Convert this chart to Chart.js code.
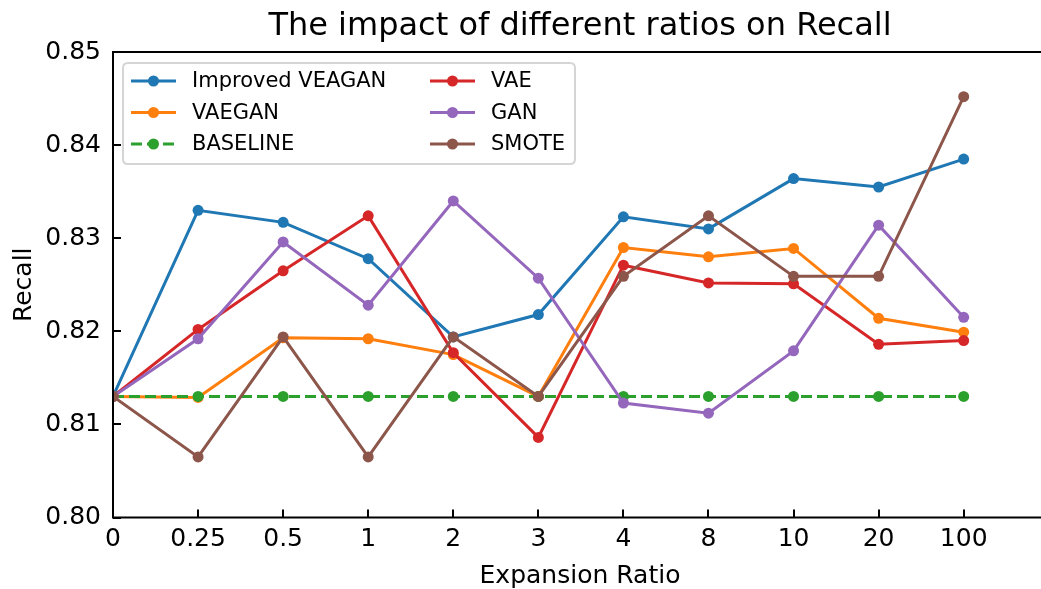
<!DOCTYPE html>
<html>
<head>
<meta charset="utf-8">
<script src="https://cdn.jsdelivr.net/npm/chart.js@4/dist/chart.umd.min.js"></script>
<style>
  html, body { margin: 0; padding: 0; background: #ffffff; overflow: hidden; }
  #wrap { width: 1050px; height: 589px; position: relative; }
</style>
</head>
<body>
<div id="wrap"><canvas id="chart"></canvas></div>
<script>
// Expansion ratios on the x axis (evenly spaced categories)
const ratioLabels = ['0', '0.25', '0.5', '1', '2', '3', '4', '8', '10', '20', '100'];

// Recall per method
const improvedVeagan = [0.8130, 0.8330, 0.8317, 0.8278, 0.8194, 0.8218, 0.8323, 0.8310, 0.8364, 0.8355, 0.8385];
const vaegan         = [0.8130, 0.8129, 0.8193, 0.8192, 0.8175, 0.8130, 0.8290, 0.8280, 0.8289, 0.8214, 0.8199];
const baseline       = [0.8130, 0.8130, 0.8130, 0.8130, 0.8130, 0.8130, 0.8130, 0.8130, 0.8130, 0.8130, 0.8130];
const vae            = [0.8130, 0.8202, 0.8265, 0.8324, 0.8177, 0.8086, 0.8271, 0.8252, 0.8251, 0.8186, 0.8190];
const gan            = [0.8130, 0.8192, 0.8296, 0.8228, 0.8340, 0.8257, 0.8123, 0.8112, 0.8179, 0.8314, 0.8215];
const smote          = [0.8130, 0.8065, 0.8194, 0.8065, 0.8194, 0.8130, 0.8259, 0.8324, 0.8259, 0.8259, 0.8452];

const yTickValues = [0.80, 0.81, 0.82, 0.83, 0.84, 0.85];

const FONT = "'DejaVu Sans', 'Liberation Sans', sans-serif";

const seriesDefs = [
  { label: 'Improved VEAGAN', values: improvedVeagan, color: '#1f77b4', dash: [] },
  { label: 'VAEGAN',          values: vaegan,         color: '#ff7f0e', dash: [] },
  { label: 'BASELINE',        values: baseline,       color: '#2ca02c', dash: [11, 5] },
  { label: 'VAE',             values: vae,            color: '#d62728', dash: [] },
  { label: 'GAN',             values: gan,            color: '#9467bd', dash: [] },
  { label: 'SMOTE',           values: smote,          color: '#8c564b', dash: [] }
];

const datasets = seriesDefs.map((s, i) => ({
  label: s.label,
  data: s.values.map((v, k) => ({ x: k, y: v })),
  borderColor: s.color,
  backgroundColor: s.color,
  pointBackgroundColor: s.color,
  pointBorderColor: s.color,
  borderWidth: 3,
  borderDash: s.dash,
  pointRadius: 5.5,
  pointBorderWidth: 0,
  pointHoverRadius: 5.5,
  tension: 0,
  fill: false,
  clip: 0,
  order: seriesDefs.length - i   // later series painted on top
}));

// Axes frame: left, bottom and top spines plus inward tick marks
const framePlugin = {
  id: 'frame',
  afterDatasetsDraw(chart) {
    const { ctx, chartArea: a, scales: { x, y } } = chart;
    ctx.save();
    ctx.strokeStyle = '#000';
    ctx.lineWidth = 2;
    ctx.lineCap = 'butt';
    ctx.beginPath();
    x.ticks.forEach(t => {
      const px = Math.round(x.getPixelForValue(t.value));
      ctx.moveTo(px, a.bottom);
      ctx.lineTo(px, a.bottom - 8);
    });
    y.ticks.forEach(t => {
      const py = Math.round(y.getPixelForValue(t.value));
      ctx.moveTo(a.left, py);
      ctx.lineTo(a.left + 8, py);
    });
    ctx.stroke();
    ctx.lineCap = 'square';
    ctx.beginPath();
    ctx.moveTo(chart.width, a.top);
    ctx.lineTo(a.left, a.top);
    ctx.lineTo(a.left, a.bottom);
    ctx.lineTo(chart.width, a.bottom);
    ctx.stroke();
    ctx.restore();
  }
};

// Title, axis titles and the two-column legend box
const textPlugin = {
  id: 'texts',
  afterDraw(chart) {
    const { ctx, chartArea: a } = chart;
    const cx = 580;
    ctx.save();
    ctx.fillStyle = '#000';
    ctx.textAlign = 'center';
    ctx.textBaseline = 'alphabetic';
    ctx.font = `32px ${FONT}`;
    ctx.fillText('The impact of different ratios on Recall', cx, 35);
    ctx.font = `25px ${FONT}`;
    ctx.fillText('Expansion Ratio', cx, 583);
    ctx.save();
    ctx.translate(31, (a.top + a.bottom) / 2);
    ctx.rotate(-Math.PI / 2);
    ctx.fillText('Recall', 0, 0);
    ctx.restore();

    // legend frame
    const bx = 123, by = 63, bw = 452, bh = 101, r = 5;
    ctx.beginPath();
    ctx.moveTo(bx + r, by);
    ctx.lineTo(bx + bw - r, by);
    ctx.quadraticCurveTo(bx + bw, by, bx + bw, by + r);
    ctx.lineTo(bx + bw, by + bh - r);
    ctx.quadraticCurveTo(bx + bw, by + bh, bx + bw - r, by + bh);
    ctx.lineTo(bx + r, by + bh);
    ctx.quadraticCurveTo(bx, by + bh, bx, by + bh - r);
    ctx.lineTo(bx, by + r);
    ctx.quadraticCurveTo(bx, by, bx + r, by);
    ctx.closePath();
    ctx.fillStyle = 'rgba(255,255,255,0.8)';
    ctx.fill();
    ctx.strokeStyle = '#d5d5d5';
    ctx.lineWidth = 2;
    ctx.stroke();

    ctx.font = `21px ${FONT}`;
    ctx.textAlign = 'left';
    ctx.textBaseline = 'middle';
    chart.data.datasets.forEach((ds, i) => {
      const col = Math.floor(i / 3), row = i % 3;
      const x0 = 131 + col * 299, x1 = x0 + 45;
      const yy = 81 + row * 31.5;
      ctx.strokeStyle = ds.borderColor;
      ctx.lineWidth = 3;
      ctx.setLineDash(ds.borderDash || []);
      ctx.beginPath();
      ctx.moveTo(x0, yy);
      ctx.lineTo(x1, yy);
      ctx.stroke();
      ctx.setLineDash([]);
      ctx.fillStyle = ds.borderColor;
      ctx.beginPath();
      ctx.arc((x0 + x1) / 2, yy, 5.5, 0, Math.PI * 2);
      ctx.fill();
      ctx.fillStyle = '#000';
      ctx.fillText(ds.label, x0 + 61, yy + 1);
    });
    ctx.restore();
  }
};

new Chart(document.getElementById('chart'), {
  type: 'line',
  data: { datasets },
  options: {
    responsive: true,
    maintainAspectRatio: false,
    animation: false,
    events: [],
    layout: { padding: { top: 52, right: 2, left: 0, bottom: 0 } },
    plugins: {
      legend: { display: false },
      title: { display: false },
      tooltip: { enabled: false }
    },
    scales: {
      x: {
        type: 'linear',
        min: 0,
        max: 10.95,
        grid: { display: false, drawTicks: false },
        border: { display: false },
        afterBuildTicks: (scale) => { scale.ticks = ratioLabels.map((_, i) => ({ value: i })); },
        afterFit: (scale) => { scale.height = 71.5; },
        ticks: {
          autoSkip: false,
          maxRotation: 0,
          padding: 7,
          color: '#000',
          font: { family: FONT, size: 25 },
          callback: (v) => ratioLabels[v]
        }
      },
      y: {
        min: 0.80,
        max: 0.85,
        grid: { display: false, drawTicks: false },
        border: { display: false },
        afterBuildTicks: (scale) => { scale.ticks = yTickValues.map(v => ({ value: v })); },
        afterFit: (scale) => { scale.width = 113; },
        ticks: {
          padding: 12,
          color: '#000',
          font: { family: FONT, size: 25 },
          callback: (v) => Number(v).toFixed(2)
        }
      }
    }
  },
  plugins: [framePlugin, textPlugin]
});
</script>
</body>
</html>
